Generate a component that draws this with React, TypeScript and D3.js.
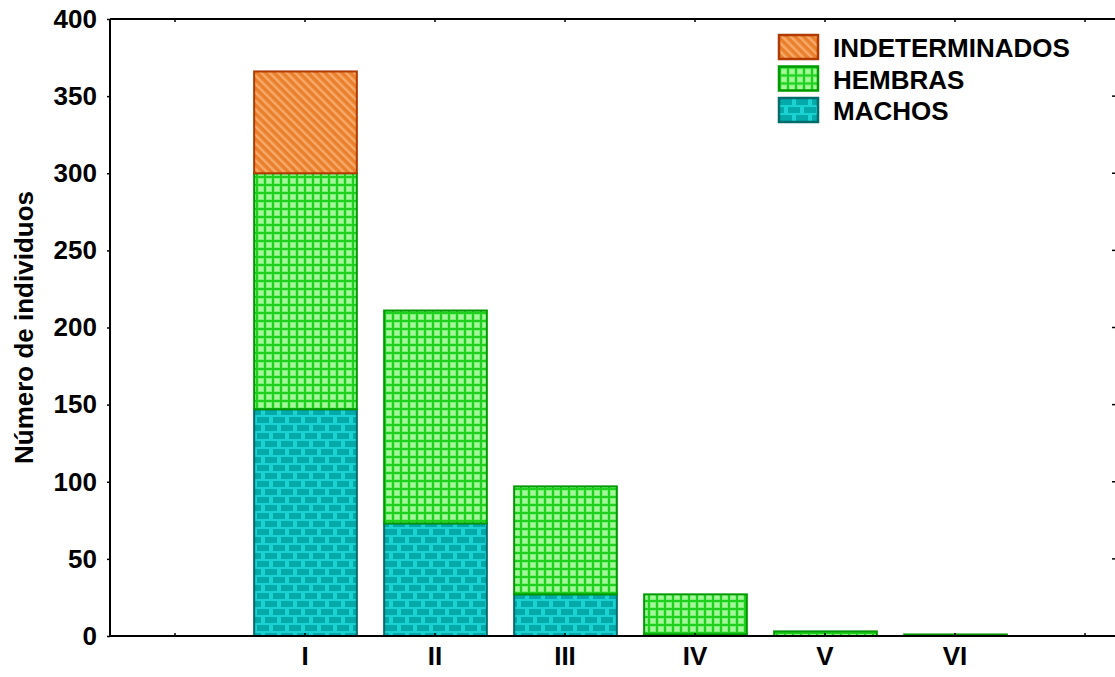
import { useEffect, useRef } from "react";
import * as d3 from "d3";

// categories (blank slots at both ends, as in the original axis)
const categories = ["", "I", "II", "III", "IV", "V", "VI", " "];
const machos = [0, 147, 73, 27, 1, 0, 0, 0];
const hembras = [0, 153, 138, 70, 26, 3, 1, 0];
const indeterminados = [0, 66, 0, 0, 0, 0, 0, 0];
const yTicks = [0, 50, 100, 150, 200, 250, 300, 350, 400];

const series = [
  { key: "MACHOS", values: machos, fill: "url(#pMachos)", stroke: "#006b6b" },
  { key: "HEMBRAS", values: hembras, fill: "url(#pHembras)", stroke: "#009a00" },
  { key: "INDETERMINADOS", values: indeterminados, fill: "url(#pIndet)", stroke: "#b03a00" },
];

const App = () => {
  const ref = useRef<SVGSVGElement | null>(null);

  useEffect(() => {
    if (!ref.current) return;
    const svg = d3.select(ref.current);
    svg.selectAll("*").remove();

    const width = 1115;
    const m = { top: 19, bottom: 636, left: 110, right: 1150 };
    const font = "'Liberation Sans', Arial, sans-serif";

    // patterns
    const defs = svg.append("defs");
    const pI = defs
      .append("pattern")
      .attr("id", "pIndet")
      .attr("patternUnits", "userSpaceOnUse")
      .attr("width", 6)
      .attr("height", 6)
      .attr("patternTransform", "rotate(-45)");
    pI.append("rect").attr("width", 6).attr("height", 6).attr("fill", "#ea7f2c");
    pI.append("rect").attr("width", 2.5).attr("height", 6).attr("fill", "#f6aa6a");

    const pH = defs
      .append("pattern")
      .attr("id", "pHembras")
      .attr("patternUnits", "userSpaceOnUse")
      .attr("width", 8)
      .attr("height", 8);
    pH.append("rect").attr("width", 8).attr("height", 8).attr("fill", "#1fd01f");
    pH.append("rect").attr("x", 2).attr("y", 2).attr("width", 6).attr("height", 6).attr("fill", "#7ff07a");
    pH.append("rect").attr("x", 3).attr("y", 3).attr("width", 4).attr("height", 4).attr("fill", "#a6f79a");

    const pM = defs
      .append("pattern")
      .attr("id", "pMachos")
      .attr("patternUnits", "userSpaceOnUse")
      .attr("width", 16)
      .attr("height", 16);
    pM.append("rect").attr("width", 16).attr("height", 16).attr("fill", "#1ad2d2");
    pM.append("rect").attr("x", 1).attr("y", 1).attr("width", 12).attr("height", 6).attr("fill", "#04a9a9");
    pM.append("rect").attr("x", -7).attr("y", 9).attr("width", 12).attr("height", 6).attr("fill", "#04a9a9");
    pM.append("rect").attr("x", 9).attr("y", 9).attr("width", 12).attr("height", 6).attr("fill", "#04a9a9");

    const x = d3.scaleBand().domain(categories).range([m.left, m.right]).paddingInner(0.21).paddingOuter(0.105);
    const y = d3.scaleLinear().domain([0, 400]).range([m.bottom, m.top]);

    // stacked bars
    const stackData = categories.map((c, i) => ({
      cat: c,
      MACHOS: machos[i],
      HEMBRAS: hembras[i],
      INDETERMINADOS: indeterminados[i],
    }));
    const stacked = d3.stack<any>().keys(series.map((s) => s.key))(stackData);

    stacked.forEach((layer, li) => {
      const s = series[li];
      svg
        .append("g")
        .selectAll("rect")
        .data(layer.filter((d) => d[1] - d[0] > 0))
        .join("rect")
        .attr("x", (d) => x(d.data.cat)! + 0.5)
        .attr("y", (d) => y(d[1]))
        .attr("width", x.bandwidth())
        .attr("height", (d) => y(d[0]) - y(d[1]))
        .attr("fill", s.fill)
        .attr("stroke", s.stroke)
        .attr("stroke-width", 2);
    });

    // frame
    const frame = svg.append("g").attr("stroke", "#000").attr("stroke-width", 2);
    frame.append("line").attr("x1", m.left).attr("x2", width + 5).attr("y1", m.top).attr("y2", m.top);
    frame.append("line").attr("x1", m.left).attr("x2", width + 5).attr("y1", m.bottom).attr("y2", m.bottom);
    frame.append("line").attr("x1", m.left).attr("x2", m.left).attr("y1", m.top).attr("y2", m.bottom);

    // left axis
    const yAxis = svg
      .append("g")
      .attr("transform", `translate(${m.left},0)`)
      .call(d3.axisLeft(y).tickValues(yTicks).tickSize(3).tickPadding(10));
    yAxis.select(".domain").remove();
    yAxis
      .selectAll("text")
      .attr("font-family", font)
      .attr("font-weight", "bold")
      .attr("font-size", 26)
      .attr("fill", "#000");
    yAxis.selectAll("line").attr("stroke-width", 1.5);

    // right side inward ticks
    svg
      .append("g")
      .selectAll("line")
      .data(yTicks.slice(1, -1))
      .join("line")
      .attr("x1", width - 3)
      .attr("x2", width)
      .attr("y1", (d) => y(d))
      .attr("y2", (d) => y(d))
      .attr("stroke", "#000")
      .attr("stroke-width", 1.5);

    // bottom axis
    const xAxis = svg
      .append("g")
      .attr("transform", `translate(0,${m.bottom})`)
      .call(d3.axisBottom(x).tickSize(-3).tickPadding(11));
    xAxis.select(".domain").remove();
    xAxis
      .selectAll("text")
      .attr("font-family", font)
      .attr("font-weight", "bold")
      .attr("font-size", 26)
      .attr("fill", "#000");
    xAxis.selectAll("line").attr("stroke-width", 1.5);

    // top ticks
    svg
      .append("g")
      .selectAll("line")
      .data(categories)
      .join("line")
      .attr("x1", (d) => x(d)! + x.bandwidth() / 2)
      .attr("x2", (d) => x(d)! + x.bandwidth() / 2)
      .attr("y1", m.top)
      .attr("y2", m.top + 3)
      .attr("stroke", "#000")
      .attr("stroke-width", 1.5);

    // y label
    svg
      .append("text")
      .attr("transform", `translate(33,${(m.top + m.bottom) / 2}) rotate(-90)`)
      .attr("text-anchor", "middle")
      .attr("font-family", font)
      .attr("font-weight", "bold")
      .attr("font-size", 26)
      .text("Número de individuos");

    // legend
    const legend = svg.append("g").attr("transform", "translate(779,35)");
    const legendItems = [...series].reverse();
    legendItems.forEach((s, i) => {
      const g = legend.append("g").attr("transform", `translate(0,${i * 31.5})`);
      g.append("rect")
        .attr("width", 39)
        .attr("height", 24)
        .attr("fill", s.fill)
        .attr("stroke", s.stroke)
        .attr("stroke-width", 2.5);
      g.append("text")
        .attr("x", 54)
        .attr("y", 22)
        .attr("font-family", font)
        .attr("font-weight", "bold")
        .attr("font-size", 26)
        .text(s.key);
    });
  }, []);

  return (
    <svg
      ref={ref}
      width={1115}
      height={677}
      style={{ position: "absolute", left: 0, top: 0, background: "#fff" }}
    ></svg>
  );
};

export default App;
